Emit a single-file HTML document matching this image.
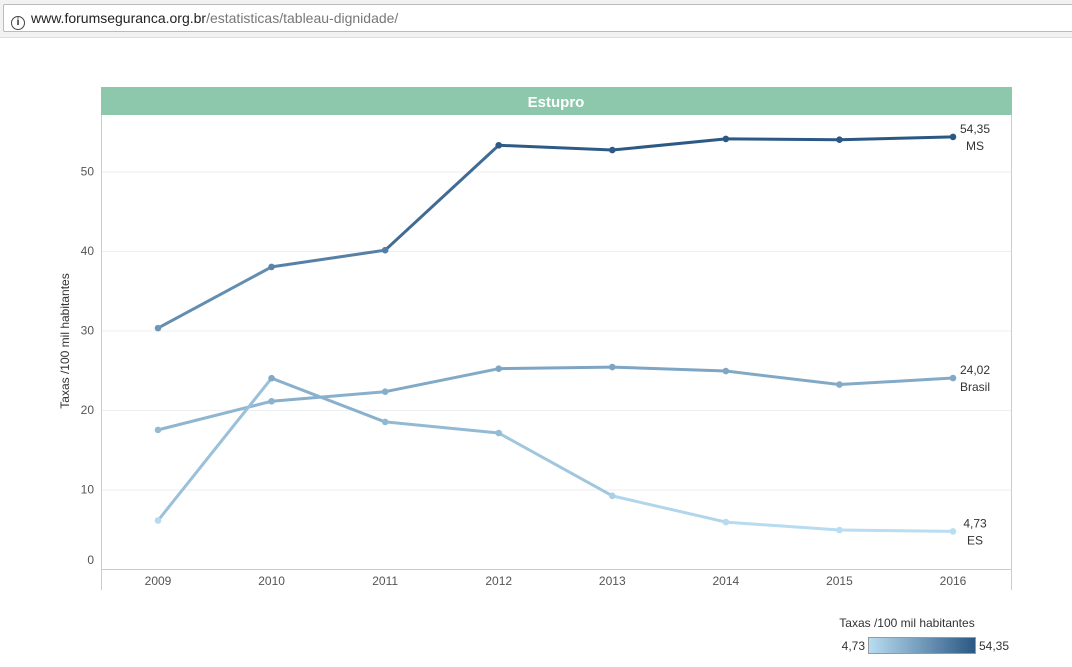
<!DOCTYPE html>
<html><head><meta charset="utf-8"><style>
body{margin:0;width:1072px;height:667px;background:#fff;font-family:"Liberation Sans",sans-serif;overflow:hidden;position:relative}
#bar{position:absolute;left:0;top:0;width:1072px;height:37px;background:#f2f2f2;border-bottom:1px solid #ddd}
#url{position:absolute;left:3px;top:4px;width:1075px;height:26px;background:#fff;border:1px solid #bbb;border-radius:2px;font-size:14px;line-height:26px;color:#222}
</style></head><body>
<div id="bar">
<div id="url"><span style="display:inline-block;width:14px;height:14px;border:1.5px solid #444;border-radius:50%;box-sizing:border-box;margin:0 6px 0 7px;vertical-align:-2px;font-size:10px;line-height:11px;text-align:center;font-weight:bold">i</span>www.forumseguranca.org.br<span style="color:#777">/estatisticas/tableau-dignidade/</span></div>
</div>
<svg id="chart" width="1072" height="667" style="position:absolute;left:0;top:0">
<defs><linearGradient id="lg" x1="0" x2="1"><stop offset="0" stop-color="#b9ddf1"/><stop offset="1" stop-color="#2a5783"/></linearGradient></defs>
<rect x="101" y="87" width="911" height="28" fill="#8dc7ac"/>
<text x="556" y="107" text-anchor="middle" font-size="15" font-weight="bold" fill="#fff">Estupro</text>
<g id="grid"></g>
<line x1="101.5" y1="115" x2="101.5" y2="590" stroke="#ccc"/>
<line x1="1011.5" y1="115" x2="1011.5" y2="590" stroke="#ccc"/>
<line x1="101" y1="569.5" x2="1012" y2="569.5" stroke="#ccc"/>
<text transform="translate(69,341) rotate(-90)" text-anchor="middle" font-size="12" fill="#333">Taxas /100 mil habitantes</text>
<g id="marks"></g>
<text x="907" y="627" text-anchor="middle" font-size="12" fill="#333">Taxas /100 mil habitantes</text>
<rect x="868.5" y="637.5" width="107" height="16" fill="url(#lg)" stroke="#999"/>
<text x="865" y="650" text-anchor="end" font-size="12" fill="#333">4,73</text>
<text x="979" y="650" font-size="12" fill="#333">54,35</text>
</svg>
<script>
const years=[2009,2010,2011,2012,2013,2014,2015,2016];
const seriesNames=["MS","Brasil","ES"];
const msValues=[30.3,38,40.1,53.3,52.7,54.1,54,54.35];
const brasilValues=[17.5,21.1,22.3,25.2,25.4,24.9,23.2,24.02];
const esValues=[6.1,24,18.5,17.1,9.2,5.9,4.9,4.73];
const yTicks=[0,10,20,30,40,50];
const endLabels=["54,35","24,02","4,73"];
const NS="http://www.w3.org/2000/svg";
const x=i=>158+i*(953-158)/(years.length-1);
const y=v=>569-v*7.95;
const lo=4.73,hi=54.35;
function col(v){const t=Math.max(0,Math.min(1,(v-lo)/(hi-lo)));const a=[185,221,241],b=[42,87,131];return`rgb(${a.map((c,k)=>Math.round(c+(b[k]-c)*t)).join(",")})`;}
function mk(tag,at,parent,txt){const e=document.createElementNS(NS,tag);for(const k in at)e.setAttribute(k,at[k]);if(txt!==undefined)e.textContent=txt;parent.appendChild(e);return e;}
const grid=document.getElementById("grid"),marks=document.getElementById("marks");
yTicks.forEach(v=>{
 if(v>0){const l=mk("line",{x1:101,x2:1011,y1:y(v)+.5,y2:y(v)+.5,stroke:"#eee"},grid);
 
 }
 const t=mk("text",{x:94,y:Math.min(y(v)+4,564),"text-anchor":"end","font-size":12,fill:"#555"},grid,String(v));
 
 
});
years.forEach((yr,i)=>{
 const t=mk("text",{x:x(i),y:585,"text-anchor":"middle","font-size":12,fill:"#555"},grid,String(yr));
 
 
});
[msValues,brasilValues,esValues].forEach((vals,s)=>{
 for(let i=0;i<vals.length-1;i++){
  const l=mk("line",{x1:x(i),y1:y(vals[i]),x2:x(i+1),y2:y(vals[i+1]),stroke:col((vals[i]+vals[i+1])/2),"stroke-width":3,"stroke-linecap":"round"},marks);
  
  
 }
 vals.forEach((v,i)=>{
  const c=mk("circle",{cx:x(i),cy:y(v),r:3.3,fill:col(v)},marks);
  
  
 });
 const last=vals.length-1;
 const t1=mk("text",{x:975,y:y(vals[last])-4,"text-anchor":"middle","font-size":12,fill:"#333"},marks,endLabels[s]);
 
 
 const t2=mk("text",{x:975,y:y(vals[last])+13,"text-anchor":"middle","font-size":12,fill:"#333"},marks,seriesNames[s]);
 
 
});
</script>
</body></html>
